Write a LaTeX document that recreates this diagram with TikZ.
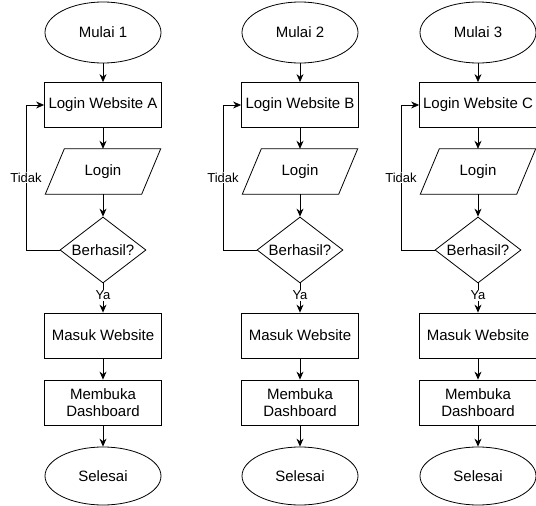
\documentclass[tikz,border=0pt]{standalone}
\usepackage{fontspec}
\setmainfont{Liberation Sans}
\usetikzlibrary{shapes.geometric,arrows.meta}
\begin{document}
\begin{tikzpicture}[x=1pt,y=-1pt,
  base/.style={draw=black, line width=0.8pt, font=\fontsize{15}{17}\selectfont, inner sep=0pt, align=center},
  term/.style={base, ellipse, minimum width=116pt, minimum height=61pt},
  proc/.style={base, rectangle, minimum width=117pt, minimum height=45pt},
  io/.style={draw=none, font=\fontsize{15}{17}\selectfont, minimum width=96pt, minimum height=45pt, inner sep=0pt},
  dec/.style={base, diamond, minimum width=86pt, minimum height=66pt, aspect=1.3},
  arr/.style={draw=black, line width=0.8pt, -{Stealth[length=8pt,width=7pt]}},
  edge/.style={draw=black, line width=0.8pt},
  lbl/.style={fill=white, font=\fontsize{13}{15}\selectfont, inner sep=1pt}]
\useasboundingbox (0,0) rectangle (536,506);
\fill[white] (0,0) rectangle (536,506);
\foreach \i/\x/\L in {1/103/A,2/300/B,3/478/C}{
  \node[term] (s\i) at (\x,32.5) {Mulai \i};
  \node[proc] (w\i) at (\x,105) {Login Website \L};
  \node[io] (p\i) at (\x,171.5) {Login};
  \draw[edge] ([xshift=9.5pt]p\i.north west) -- ([xshift=9.5pt]p\i.north east)
    -- ([xshift=-9.5pt]p\i.south east) -- ([xshift=-9.5pt]p\i.south west) -- cycle;
  \node[dec] (d\i) at (\x,250) {Berhasil?};
  \node[proc] (m\i) at (\x,335.5) {Masuk Website};
  \node[proc] (b\i) at (\x,402.5) {Membuka\\Dashboard};
  \node[term, minimum height=58pt] (e\i) at (\x,476) {Selesai};
  \coordinate (t\i) at (\x-77,250);
  \draw[arr] (s\i) -- (w\i);
  \draw[arr] (w\i) -- (p\i);
  \draw[arr] (p\i) -- (d\i);
  \draw[arr] (d\i) -- node[lbl,pos=0.4]{Ya} (m\i);
  \draw[arr] (m\i) -- (b\i);
  \draw[arr] (b\i) -- (e\i);
  \draw[arr] (d\i.west) -- (t\i) |- node[lbl,pos=0.25]{Tidak} (w\i.west);
}
\end{tikzpicture}
\end{document}
